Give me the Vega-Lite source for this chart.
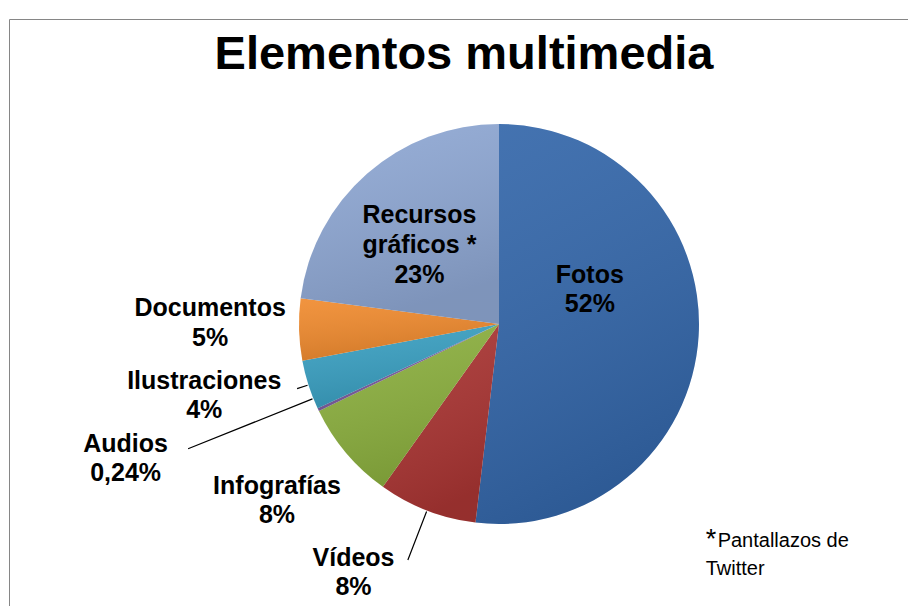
{
  "$schema": "https://vega.github.io/schema/vega-lite/v6.json",
  "autosize": {"type": "none"},
  "width": 980,
  "height": 610,
  "padding": {"left": 9, "top": 19, "right": -81, "bottom": -23},
  "background": "white",
  "config": {
    "view": {"stroke": null},
    "text": {"font": "Liberation Sans"},
    "axis": {"domainColor": "#868686", "domainWidth": 1, "ticks": false, "labels": false, "grid": false, "title": null}
  },
  "data": {
    "values": [
      {"ord": 1, "cat": "Fotos", "value": 52, "label": "Fotos\n52%"},
      {"ord": 2, "cat": "Vídeos", "value": 8, "label": "Vídeos\n8%"},
      {"ord": 3, "cat": "Infografías", "value": 8, "label": "Infografías\n8%"},
      {"ord": 4, "cat": "Audios", "value": 0.24, "label": "Audios\n0,24%"},
      {"ord": 5, "cat": "Ilustraciones", "value": 4, "label": "Ilustraciones\n4%"},
      {"ord": 6, "cat": "Documentos", "value": 5, "label": "Documentos\n5%"},
      {"ord": 7, "cat": "Recursos gráficos", "value": 23, "label": "Recursos\ngráficos *\n23%"}
    ]
  },
  "layer": [
    {
      "mark": {"type": "point", "opacity": 0},
      "encoding": {
        "x": {"field": "ord", "type": "quantitative", "axis": {"orient": "top"}},
        "y": {"field": "value", "type": "quantitative", "axis": {"orient": "left"}}
      }
    },
    {
      "layer": [
        {
          "mark": {"type": "arc", "outerRadius": 200, "innerRadius": 0},
          "encoding": {
            "color": {
              "field": "cat",
              "type": "nominal",
              "scale": {
                "domain": ["Fotos", "Vídeos", "Infografías", "Audios", "Ilustraciones", "Documentos", "Recursos gráficos"],
                "range": ["#3467AA", "#AA3533", "#8CB03F", "#7D5FA0", "#3AA0C2", "#F08B2F", "#8FA8D4"]
              },
              "legend": null
            }
          }
        },
        {
          "mark": {
            "type": "arc",
            "outerRadius": 200,
            "innerRadius": 0,
            "fill": {
              "gradient": "linear",
              "x1": 0, "y1": 0, "x2": 0.3, "y2": 1,
              "stops": [
                {"offset": 0, "color": "rgba(255,255,255,0.08)"},
                {"offset": 1, "color": "rgba(0,0,0,0.12)"}
              ]
            }
          }
        },
        {
          "mark": {"type": "arc", "outerRadius": 253, "innerRadius": 201, "padAngle": 3, "fillOpacity": 0, "stroke": "#000000", "strokeWidth": 1.2},
          "encoding": {"strokeOpacity": {"condition": {"test": "datum.cat === 'Vídeos'", "value": 1}, "value": 0}}
        },
        {
          "mark": {"type": "arc", "outerRadius": 212, "innerRadius": 201, "padAngle": 3, "fillOpacity": 0, "stroke": "#000000", "strokeWidth": 1.2},
          "encoding": {"strokeOpacity": {"condition": {"test": "datum.cat === 'Ilustraciones'", "value": 1}, "value": 0}}
        },
        {
          "mark": {"type": "arc", "outerRadius": 335, "innerRadius": 201, "padAngle": 3, "thetaOffset": 0.061, "theta2Offset": 0.061, "fillOpacity": 0, "stroke": "#000000", "strokeWidth": 1.2},
          "encoding": {"strokeOpacity": {"condition": {"test": "datum.cat === 'Audios'", "value": 1}, "value": 0}}
        },
        {
          "mark": {"type": "text", "radius": 0, "dx": -35, "dy": -255, "fontSize": 47, "fontWeight": "bold", "align": "center", "baseline": "alphabetic", "color": "#000000"},
          "encoding": {"text": {"condition": {"test": "datum.cat === 'Fotos'", "value": "Elementos multimedia"}, "value": ""}}
        },
        {
          "mark": {"type": "text", "radius": 91, "dx": 0, "dy": -54, "fontSize": 25, "fontWeight": "bold", "lineHeight": 29, "lineBreak": "\n", "align": "center", "baseline": "middle", "color": "#000000"},
          "encoding": {"text": {"condition": {"test": "datum.cat === 'Fotos'", "field": "label"}, "value": ""}}
        },
        {
          "mark": {"type": "text", "radius": 110, "dx": -7, "dy": -26, "fontSize": 25, "fontWeight": "bold", "lineHeight": 30, "lineBreak": "\n", "align": "center", "baseline": "middle", "color": "#000000"},
          "encoding": {"text": {"condition": {"test": "datum.cat === 'Recursos gráficos'", "field": "label"}, "value": ""}}
        },
        {
          "mark": {"type": "text", "radius": 289, "dx": 0, "dy": -24, "fontSize": 25, "fontWeight": "bold", "lineHeight": 30, "lineBreak": "\n", "align": "center", "baseline": "middle", "color": "#000000"},
          "encoding": {"text": {"condition": {"test": "datum.cat === 'Documentos'", "field": "label"}, "value": ""}}
        },
        {
          "mark": {"type": "text", "radius": 300, "dx": -9, "dy": -34, "fontSize": 25, "fontWeight": "bold", "lineHeight": 29, "lineBreak": "\n", "align": "center", "baseline": "middle", "color": "#000000"},
          "encoding": {"text": {"condition": {"test": "datum.cat === 'Ilustraciones'", "field": "label"}, "value": ""}}
        },
        {
          "mark": {"type": "text", "radius": 380, "dx": -30, "dy": -43, "fontSize": 25, "fontWeight": "bold", "lineHeight": 29, "lineBreak": "\n", "align": "center", "baseline": "middle", "color": "#000000"},
          "encoding": {"text": {"condition": {"test": "datum.cat === 'Audios'", "field": "label"}, "value": ""}}
        },
        {
          "mark": {"type": "text", "radius": 280, "dx": -8, "dy": -19, "fontSize": 25, "fontWeight": "bold", "lineHeight": 29, "lineBreak": "\n", "align": "center", "baseline": "middle", "color": "#000000"},
          "encoding": {"text": {"condition": {"test": "datum.cat === 'Infografías'", "field": "label"}, "value": ""}}
        },
        {
          "mark": {"type": "text", "radius": 265, "dx": -50, "dy": -13, "fontSize": 25, "fontWeight": "bold", "lineHeight": 29, "lineBreak": "\n", "align": "center", "baseline": "middle", "color": "#000000"},
          "encoding": {"text": {"condition": {"test": "datum.cat === 'Vídeos'", "field": "label"}, "value": ""}}
        },
        {
          "mark": {"type": "text", "radius": 200, "dx": 7, "dy": 212, "fontSize": 27, "align": "left", "baseline": "alphabetic", "color": "#000000"},
          "encoding": {"text": {"condition": {"test": "datum.cat === 'Fotos'", "value": "*"}, "value": ""}}
        },
        {
          "mark": {"type": "text", "radius": 200, "dx": 19, "dy": 211, "fontSize": 20, "align": "left", "baseline": "alphabetic", "color": "#000000"},
          "encoding": {"text": {"condition": {"test": "datum.cat === 'Fotos'", "value": "Pantallazos de"}, "value": ""}}
        },
        {
          "mark": {"type": "text", "radius": 200, "dx": 7, "dy": 239, "fontSize": 20, "align": "left", "baseline": "alphabetic", "color": "#000000"},
          "encoding": {"text": {"condition": {"test": "datum.cat === 'Fotos'", "value": "Twitter"}, "value": ""}}
        }
      ],
      "encoding": {
        "theta": {"field": "value", "type": "quantitative", "stack": true},
        "order": {"field": "ord", "type": "quantitative"},
        "detail": {"field": "cat", "type": "nominal"}
      }
    }
  ]
}
